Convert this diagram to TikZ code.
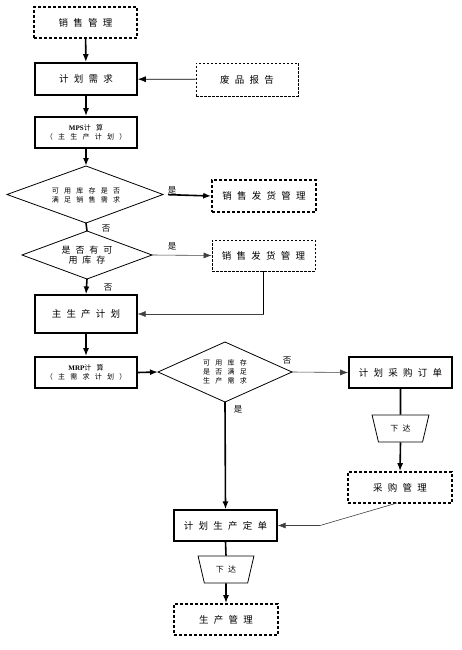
\documentclass[tikz,border=0pt]{standalone}
\usepackage{fontspec}
\setmainfont{Liberation Serif}
\newfontfamily\cjk[LetterSpace=55]{Noto Sans CJK SC}
\newfontfamily\cjks[LetterSpace=75]{Noto Sans CJK SC}
\usetikzlibrary{shapes.geometric,arrows.meta}
\newcommand{\mkdia}[4]{% name, x, y, half-w, half-h
}
\begin{document}
\begin{tikzpicture}[x=1pt,y=-1pt,
  every node/.style={inner sep=0pt,align=center},
  box/.style={draw,line width=1.6pt,minimum width=102pt,minimum height=31pt,font=\cjk\fontsize{9.5}{11}\selectfont},
  dbox/.style={box,dash pattern=on 3pt off 2pt},
  tdbox/.style={box,line width=0.8pt,dash pattern=on 2.5pt off 1.5pt},
  mbox/.style={box,line width=1.2pt},
  diat/.style={font=\cjks\fontsize{7}{9}\selectfont},
  dial/.style={line width=0.8pt,line join=miter},
  trap/.style={draw,trapezium,trapezium stretches=true,shape border rotate=180,trapezium angle=68,minimum width=57pt,minimum height=27pt,line width=0.8pt,font=\cjk\fontsize{8}{10}\selectfont},
  lbl/.style={font=\cjk\fontsize{8.5}{10}\selectfont},
  tip/.style={-{Latex[length=8pt,width=6pt]}},
  thk/.style={line width=1.6pt},
  thn/.style={line width=0.6pt,black!75}]
\useasboundingbox (0,0) rectangle (461,650);
\node[dbox,minimum width=103pt] (xsgl) at (85.5,22.5) {销售管理};
\node[box,minimum height=32pt] (jhxq) at (86,79) {计划需求};
\node[tdbox,minimum height=33pt] (fpbg) at (247,79.5) {废品报告};
\node[box,font=\cjks\fontsize{7}{9}\selectfont] (mps) at (86,132.5) {{\rmfamily\bfseries MPS}计算\\（主生产计划）};
% diamond 1
\node[diat] (d1) at (86,195) {可用库存是否\\满足销售需求};
\coordinate (d1n) at (86,166);
\coordinate (d1s) at (86,223);
\coordinate (d1e) at (163,194.5);
\coordinate (d1w) at (7,194.5);
\draw[dial] (d1n) -- (d1e) -- (d1s) -- (d1w) -- cycle;
\node[dbox,minimum width=104pt,minimum height=32pt] (fh1) at (264,196) {销售发货管理};
\node[lbl] (no1) at (106,229) {否};
\node[lbl] (yes1) at (172,190) {是};
% diamond 2
\node[font=\cjk\fontsize{9}{10}\selectfont] (d2) at (87,255) {是否有可\\用库存};
\coordinate (d2n) at (87,231);
\coordinate (d2s) at (87,279);
\coordinate (d2e) at (152,255);
\coordinate (d2w) at (22,255);
\draw[dial] (d2n) -- (d2e) -- (d2s) -- (d2w) -- cycle;
\node[tdbox,minimum width=103pt] (fh2) at (263.5,255.5) {销售发货管理};
\node[lbl] (yes2) at (172,246) {是};
\node[lbl] (no2) at (108,288) {否};
\node[mbox,minimum height=38pt] (zsc) at (86,314) {主生产计划};
\node[box,font=\cjks\fontsize{7}{9}\selectfont] (mrp) at (86,372.5) {{\rmfamily\bfseries MRP}计算\\（主需求计划）};
% diamond 3
\node[diat] (d3) at (225,372) {可用库存\\是否满足\\生产需求};
\coordinate (d3n) at (225,342);
\coordinate (d3s) at (225,402);
\coordinate (d3e) at (292,372);
\coordinate (d3w) at (158,372);
\draw[dial] (d3n) -- (d3e) -- (d3s) -- (d3w) -- cycle;
\node[lbl,fill=white,inner sep=1.5pt] (no3) at (287,361) {否};
\node[box,minimum width=103pt] (jhcg) at (400.5,372.5) {计划采购订单};
\node[lbl] (yes3) at (238,409) {是};
\node[trap] (xd1) at (400.5,428.5) {下达};
\node[dbox,minimum width=104pt] (cggl) at (400,487.5) {采购管理};
\node[mbox,minimum width=103pt] (jhsc) at (225.5,525.5) {计划生产定单};
\node[trap,minimum width=56pt] (xd2) at (226,569.5) {下达};
\node[dbox,minimum width=104pt] (scgl) at (226,619.5) {生产管理};
\coordinate (b1) at (263.5,314);
\coordinate (b2) at (320,525.5);
\coordinate (c1) at (397,503);
% connectors
\draw[thk,tip] (xsgl) -- (jhxq);
\draw[line width=0.8pt,tip] (fpbg) -- (jhxq);
\draw[thk,tip] (jhxq) -- (mps);
\draw[thk,tip] (mps) -- (d1n);
\draw[thk,tip,shorten <=5pt] (d1e) -- (fh1.west);
\draw[thk] (d1s) -- (d2n);
\draw[thn,tip] (d2e) -- (fh2.west);
\draw[thk,tip] (d2s) -- (zsc.north);
\draw[thk] (fh2.south) -- (b1);
\draw[thn,tip] (b1) -- (zsc.east);
\draw[thk,tip] (zsc) -- (mrp);
\draw[thk,tip] (mrp.east) -- (d3w);
\draw[thn,tip] (d3e) -- (jhcg.west);
\draw[thk] (jhcg.south) -- (xd1.north);
\draw[thk,tip] (xd1.south) -- (cggl.north);
\draw[thk,tip] (d3s) -- (jhsc.north);
\draw[thn,tip] (c1) -- (b2) -- (jhsc.east);
\draw[thk] (jhsc.south) -- (xd2.north);
\draw[thk,tip] (xd2.south) -- (scgl.north);
\end{tikzpicture}
\end{document}
